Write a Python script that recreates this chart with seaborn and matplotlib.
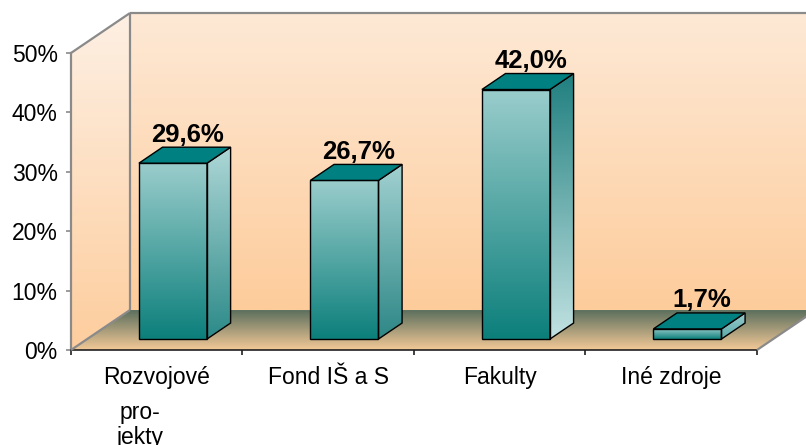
import numpy as np
import seaborn as sns
import matplotlib.pyplot as plt
from matplotlib.patches import Polygon
from matplotlib.colors import to_rgb

# data
categories = ["Rozvojové projekty", "Fond IŠ a S", "Fakulty", "Iné zdroje"]
tick_labels = ["Rozvojové", "Fond IŠ a S", "Fakulty", "Iné zdroje"]
values = [29.6, 26.7, 42.0, 1.7]
y_ticks = [0, 10, 20, 30, 40, 50]

# side face gradient of each bar (top, bottom)
side_top = ["#aed7d7", "#a2d1d1", "#207f7f", "#9ccccc"]
side_bottom = ["#2b8a88", "#2d8786", "#c2e2e2", "#5aa8a8"]

sns.set_style("white")
plt.rcParams['font.family'] = ['Liberation Sans', 'DejaVu Sans']
plt.rcParams['text.color'] = 'black'

# 3d look: depth of the whole plot box in data units
DX, DY = 0.344, 6.73
F0, FB = 0.275, 0.40   # bar front position / bar depth, as part of DX,DY

fig = plt.figure(figsize=(8.06, 4.45), dpi=100)
ax = fig.add_axes([0, 0, 1, 1])


def gradient_fill(ax, verts, top_color, bottom_color, zorder, clip=None):
    if clip is None:
        clip = Polygon(verts, closed=True, facecolor='none', edgecolor='none')
        ax.add_patch(clip)
    xs = [v[0] for v in verts]
    ys = [v[1] for v in verts]
    t = np.linspace(0, 1, 256)[:, None]
    img = (np.array(to_rgb(top_color)) * (1 - t) + np.array(to_rgb(bottom_color)) * t)[:, None, :]
    im = ax.imshow(img, extent=[min(xs), max(xs), min(ys), max(ys)], origin='upper',
                   aspect='auto', interpolation='bilinear', zorder=zorder)
    im.set_clip_path(clip)


# bars
sns.barplot(x=categories, y=values, color='#008080', width=0.397, saturation=1,
            edgecolor='black', linewidth=1, ax=ax)
bars = list(ax.patches)

bdx, bdy = FB * DX, FB * DY
for i, p in enumerate(bars):
    p.set_x(p.get_x() + F0 * DX)
    p.set_y(F0 * DY)
    p.set_facecolor('none')
    p.set_zorder(5)
    x0, x1 = p.get_x(), p.get_x() + p.get_width()
    y0, y1 = p.get_y(), p.get_y() + p.get_height()
    gradient_fill(ax, [(x0, y0), (x1, y0), (x1, y1), (x0, y1)], '#9acdcc', '#0c7f7b', 4, clip=p)
    side = [(x1, y0), (x1 + bdx, y0 + bdy), (x1 + bdx, y1 + bdy), (x1, y1)]
    gradient_fill(ax, side, side_top[i], side_bottom[i], 4)
    ax.add_patch(Polygon(side, closed=True, facecolor='none', edgecolor='black', lw=1, zorder=5))
    top = [(x0, y1), (x1, y1), (x1 + bdx, y1 + bdy), (x0 + bdx, y1 + bdy)]
    ax.add_patch(Polygon(top, closed=True, facecolor='#008080', edgecolor='black', lw=1, zorder=5))
    lbl = f"{values[i]:.1f}".replace('.', ',') + '%'
    ax.annotate(lbl, (x0 + (x1 - x0 + bdx) / 2, y1 + bdy), xytext=(2, 4),
                textcoords='offset points', ha='center', va='baseline',
                fontsize=18.5, fontweight='bold', color='black', zorder=6)

# walls and floor
L, R = -0.5, 3.5
gradient_fill(ax, [(L + DX, DY), (4.2, DY), (4.2, 50 + DY), (L + DX, 50 + DY)], '#fde9d6', '#fecc9b', 1)
gradient_fill(ax, [(L, 0), (L + DX, DY), (L + DX, 50 + DY), (L, 50)], '#fef0e4', '#fdcd9d', 1)
gradient_fill(ax, [(L, 0), (L + DX, DY), (R + DX, DY), (R, 0)], '#5b6f5d', '#f4c997', 2)

frame = dict(color='#8a8a8a', lw=1.6, zorder=3, solid_capstyle='butt')
ax.plot([L, L + DX], [50, 50 + DY], **frame)
ax.plot([L + DX, 4.2], [50 + DY, 50 + DY], **frame)
ax.plot([L + DX, L + DX], [DY, 50 + DY], **frame)
ax.plot([L, L + DX], [0, DY], **frame)
ax.plot([R, R + DX], [0, DY], **frame)

# continuation of the wrapped first label
ax.text(-0.1, -11.6, "pro-", ha='center', va='baseline', fontsize=16.5, color='black')
ax.text(-0.1, -15.9, "jekty", ha='center', va='baseline', fontsize=16.5, color='black')

# axes
ax.set_xlim(-0.914, 3.786)
ax.set_ylim(-15.99, 58.92)
for s in ['top', 'right']:
    ax.spines[s].set_visible(False)
ax.spines['left'].set_position(('data', L))
ax.spines['left'].set_bounds(0, 50)
ax.spines['left'].set_color('#8a8a8a')
ax.spines['left'].set_linewidth(1.6)
ax.spines['bottom'].set_position(('data', 0))
ax.spines['bottom'].set_bounds(L, R)
ax.spines['bottom'].set_color('#202020')
ax.spines['bottom'].set_linewidth(1.2)

ax.set_yticks(y_ticks, labels=[f"{v}%" for v in y_ticks])
ax.set_xticks(range(len(categories)), labels=tick_labels)
ax.set_xticks([L + k for k in range(len(categories) + 1)], minor=True)
ax.tick_params(axis='y', left=True, length=3.6, width=1.2, color='#8a8a8a', pad=6,
               labelsize=16.5, labelcolor='black')
ax.tick_params(axis='x', which='major', bottom=True, length=0, pad=11.5, labelsize=16.5,
               labelcolor='black')
ax.tick_params(axis='x', which='minor', bottom=True, length=3.6, width=1.2, color='#202020')
ax.set_xlabel('')
ax.set_ylabel('')
ax.set_facecolor('white')

fig.savefig('out.png', dpi=100)
